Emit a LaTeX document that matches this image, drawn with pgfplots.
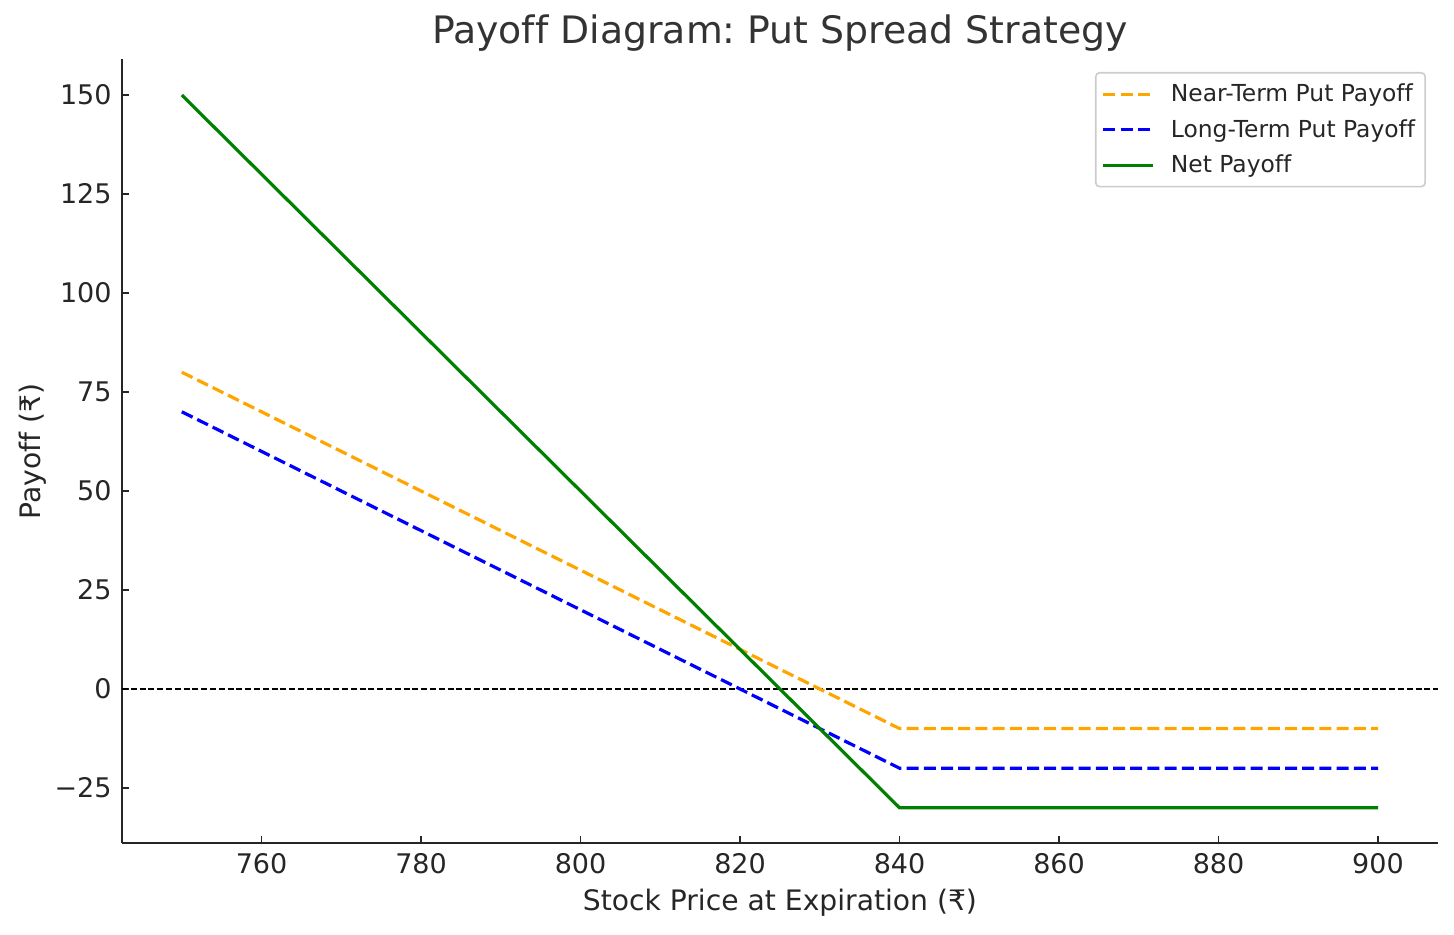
\documentclass[border=0pt]{standalone}
\usepackage{fontspec}
\setmainfont{DejaVu Sans}[Ligatures=NoCommon]
\usepackage{pgfplots}
\pgfplotsset{compat=1.18}
\definecolor{mplorange}{RGB}{255,165,0}
\definecolor{mplblue}{RGB}{0,0,255}
\definecolor{mplgreen}{RGB}{0,128,0}
\definecolor{txt}{RGB}{38,38,38}
\begin{document}
\frenchspacing
\begin{tikzpicture}
\useasboundingbox (-61pt,-45.3pt) rectangle (666pt,421.7pt);
\begin{axis}[
  at={(0pt,0pt)}, anchor=south west,
  scale only axis,
  width=657.9pt, height=392pt,
  xmin=742.5, xmax=907.5, ymin=-39, ymax=159,
  axis x line*=bottom, axis y line*=left,
  axis line style={-, line width=1pt, color=txt},
  tick align=inside,
  major tick length=3.5pt,
  tick style={line width=0.8pt, color=txt},
  xtick={760,780,800,820,840,860,880,900},
  xticklabels={760,780,800,820,840,860,880,900},
  ytick={-25,0,25,50,75,100,125,150},
  yticklabels={−25,0,25,50,75,100,125,150},
  xticklabel style={font=\fontsize{13.5}{16}\selectfont, color=txt, inner sep=0pt, anchor=base, yshift=-14.8pt},
  yticklabel style={font=\fontsize{13.5}{16}\selectfont, color=txt, inner sep=0pt, anchor=base east, xshift=-5pt, yshift=-4.9pt},
  title={Payoff Diagram: Put Spread Strategy},
  title style={font=\fontsize{18.9}{22}\selectfont, color=black!80, inner sep=0pt, anchor=base, yshift=0pt, at={(axis description cs:0.5,1.0056)}},
  xlabel={Stock Price at Expiration (₹)},
  xlabel style={font=\fontsize{14.1}{17}\selectfont, color=txt, inner sep=0pt, anchor=base, at={(axis description cs:0.5,-0.0862)}},
  ylabel={Payoff (₹)},
  ylabel style={font=\fontsize{14.1}{17}\selectfont, color=txt, inner sep=0pt, rotate=0, anchor=base, at={(axis description cs:-0.0616,0.5)}},
  legend cell align=left,
  legend image code/.code={\draw[#1] (0pt,0pt) -- (25pt,0pt); \path (31pt,0pt);},
  legend style={at={(axis description cs:0.991,0.984)}, anchor=north east,
    draw=black!20, line width=0.8pt, rounded corners=2pt, fill=white,
    font=\fontsize{11.7}{14}\selectfont, text=txt,
    inner xsep=3pt, inner ysep=3.5pt, row sep=3.4pt,
    nodes={inner sep=2pt}},
]
\addplot[forget plot, black, line width=0.8pt, dash pattern=on 3pt off 1.4pt] coordinates {(742.5,0) (907.5,0)};
\addplot[mplorange, line width=1.6pt, dash pattern=on 6pt off 2.6pt] coordinates {(750,80) (840,-10) (900,-10)};
\addlegendentry{Near-Term Put Payoff}
\addplot[mplblue, line width=1.6pt, dash pattern=on 6pt off 2.6pt] coordinates {(750,70) (840,-20) (900,-20)};
\addlegendentry{Long-Term Put Payoff}
\addplot[mplgreen, line width=1.6pt] coordinates {(750,150) (840,-30) (900,-30)};
\addlegendentry{Net Payoff}
\end{axis}
\end{tikzpicture}
\end{document}
